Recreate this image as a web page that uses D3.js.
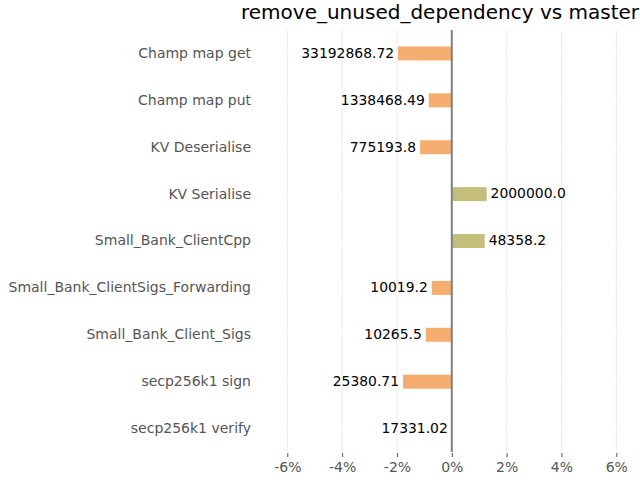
<!DOCTYPE html>
<html><head><meta charset="utf-8">
<script src="https://cdn.jsdelivr.net/npm/d3@7"></script>
<style>body{margin:0;background:#fff;} text{font-family:"DejaVu Sans",sans-serif;}</style>
</head><body>
<svg id="c" width="640" height="480"></svg>
<script>
const categories = ["Champ map get","Champ map put","KV Deserialise","KV Serialise","Small_Bank_ClientCpp","Small_Bank_ClientSigs_Forwarding","Small_Bank_Client_Sigs","secp256k1 sign","secp256k1 verify"];
const changePct = [-1.96, -0.84, -1.16, 1.27, 1.2, -0.73, -0.95, -1.78, 0];
const valueLabels = ["33192868.72","1338468.49","775193.8","2000000.0","48358.2","10019.2","10265.5","25380.71","17331.02"];
const tickValues = [-6,-4,-2,0,2,4,6];
const title = "remove_unused_dependency vs master";

const svg = d3.select("#c");
const x = d3.scaleLinear().domain([-6,6]).range([287.3,616.3]);
const y = d3.scaleBand().domain(categories).range([30,452]);
const barH = 14;

// vertical grid
svg.append("g").selectAll("line").data(tickValues).join("line")
  .attr("x1",d=>x(d)).attr("x2",d=>x(d)).attr("y1",30).attr("y2",452)
  .attr("stroke","#ebebeb").attr("stroke-width",1);
// horizontal white grid
svg.append("g").selectAll("line").data(categories).join("line")
  .attr("x1",262).attr("x2",640).attr("y1",d=>y(d)+y.bandwidth()/2).attr("y2",d=>y(d)+y.bandwidth()/2)
  .attr("stroke","#ffffff").attr("stroke-width",1.2);

const data = categories.map((c,i)=>({c, v:changePct[i], l:valueLabels[i]}));
svg.append("g").selectAll("rect").data(data).join("rect")
  .attr("x",d=>x(Math.min(0,d.v))).attr("width",d=>Math.abs(x(d.v)-x(0)))
  .attr("y",d=>y(d.c)+y.bandwidth()/2-barH/2).attr("height",barH)
  .attr("fill",d=>d.v>0?"#c4be7b":"#f5ad70");

// zero line
svg.append("line").attr("x1",x(0)).attr("x2",x(0)).attr("y1",30).attr("y2",452)
  .attr("stroke","#808080").attr("stroke-width",2);

// value labels
svg.append("g").selectAll("text").data(data).join("text")
  .attr("x",d=>d.v>0?x(d.v)+4:x(Math.min(0,d.v))-4)
  .attr("y",d=>y(d.c)+y.bandwidth()/2-0.5)
  .attr("dy","0.35em")
  .attr("text-anchor",d=>d.v>0?"start":"end")
  .attr("font-size",13.9).attr("fill","#000")
  .text(d=>d.l);

// category labels
svg.append("g").selectAll("text").data(categories).join("text")
  .attr("x",251).attr("y",d=>y(d)+y.bandwidth()/2-0.5).attr("dy","0.35em")
  .attr("text-anchor","end").attr("font-size",14).attr("fill","#555")
  .text(d=>d);

// x axis
const ax = svg.append("g").attr("transform","translate(0,453)")
  .call(d3.axisBottom(x).tickValues(tickValues).tickSize(4).tickPadding(5).tickFormat(d=>d+"%"));
ax.select(".domain").remove();
ax.selectAll(".tick line").attr("stroke","#555");
ax.selectAll(".tick text").attr("font-size",14).attr("fill","#555").attr("font-family","DejaVu Sans");

svg.append("text").attr("x",241).attr("y",19).attr("font-size",20).attr("fill","#000").text(title);
</script>
</body></html>
